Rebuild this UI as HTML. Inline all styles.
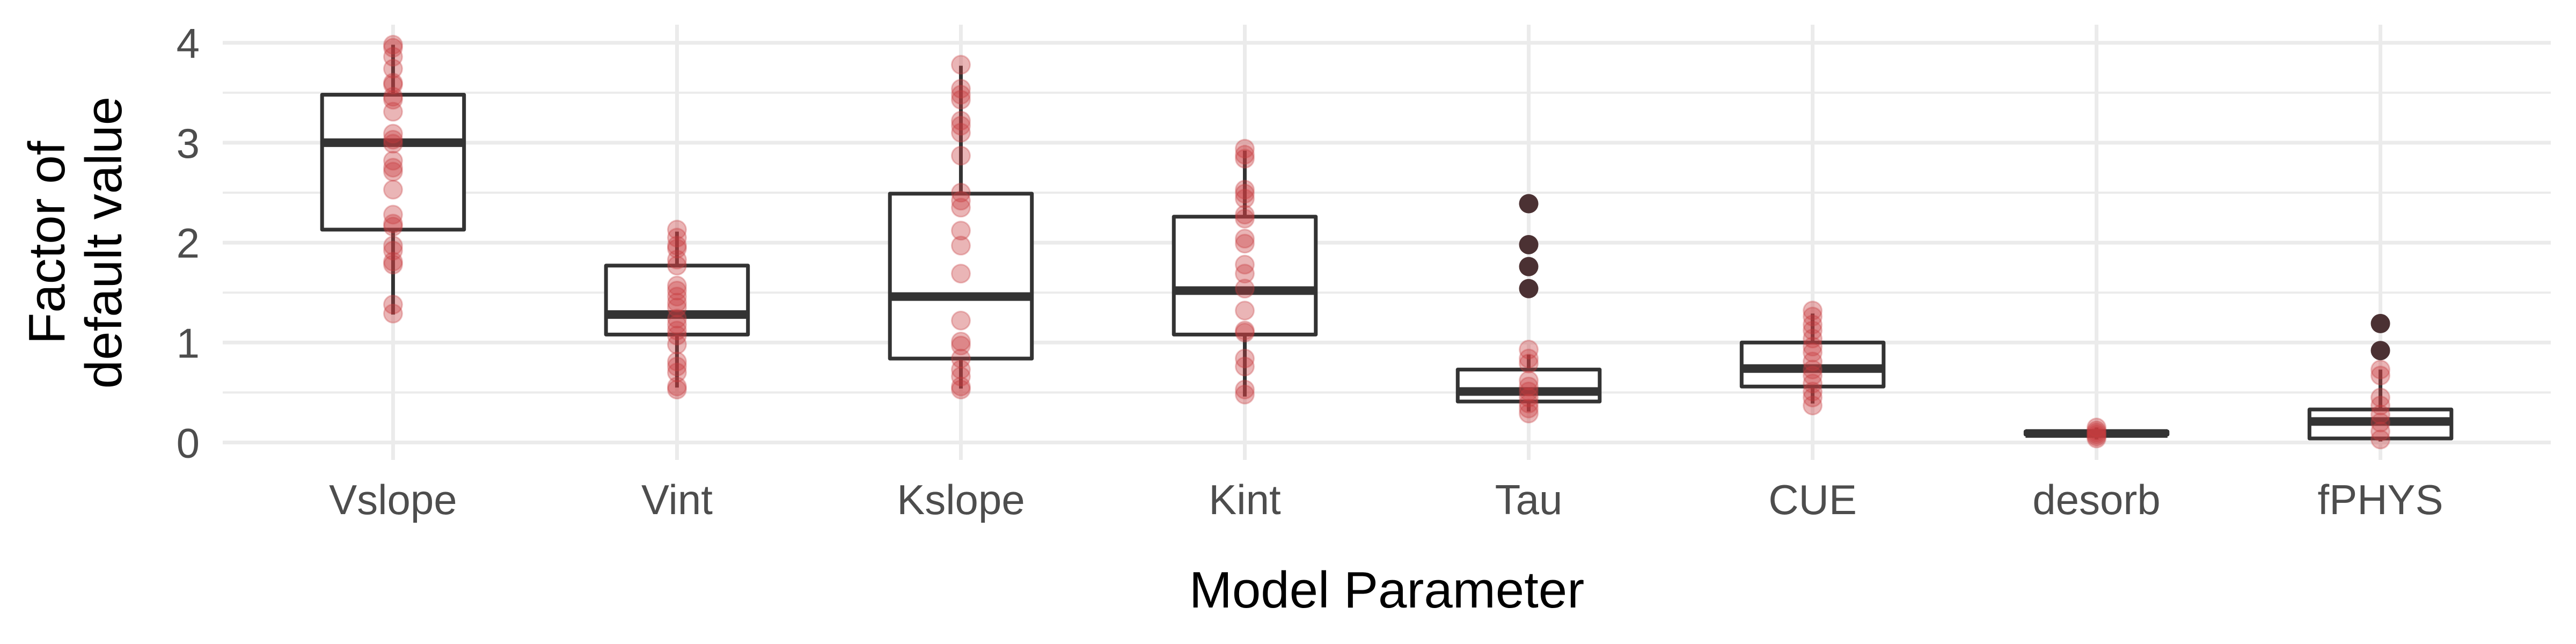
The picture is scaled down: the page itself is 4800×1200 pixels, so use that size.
<!DOCTYPE html>
<html><head><meta charset="utf-8"><style>
html,body{margin:0;padding:0;background:#fff;}
svg{display:block;font-family:"Liberation Sans",Arial,sans-serif;}
</style></head><body>
<svg id="chart" width="4800" height="1200" viewBox="0 0 4800 1200" xmlns="http://www.w3.org/2000/svg">
<g id="grid"></g>
<g id="boxes"></g>
<g id="points"></g>
<g id="axes"></g>
<text x="2584" y="1132" font-size="96" text-anchor="middle" fill="#000">Model Parameter</text>
<text transform="translate(120,452) rotate(-90)" font-size="96" text-anchor="middle" fill="#000"><tspan x="0" y="0">Factor of</tspan><tspan x="0" y="106">default value</tspan></text>
</svg>
<script>
const categories = ["Vslope","Vint","Kslope","Kint","Tau","CUE","desorb","fPHYS"];
const q1 = [2.13,1.08,0.84,1.08,0.41,0.56,0.08,0.04];
const medians = [3.00,1.28,1.46,1.52,0.51,0.74,0.09,0.21];
const q3 = [3.48,1.77,2.49,2.26,0.73,1.00,0.11,0.33];
const whiskerLow = [1.28,0.55,0.54,0.46,0.31,0.39,0.03,0.01];
const whiskerHigh = [3.98,2.11,3.77,2.92,0.88,1.29,0.15,0.73];
const pointsVslope = [3.98,3.95,3.86,3.74,3.60,3.58,3.46,3.43,3.31,3.09,3.03,2.99,2.82,2.75,2.71,2.53,2.28,2.19,2.16,1.97,1.92,1.81,1.78,1.38,1.29];
const pointsVint = [2.13,2.05,1.97,1.94,1.83,1.77,1.57,1.52,1.46,1.40,1.35,1.24,1.18,1.12,1.07,0.98,0.81,0.76,0.70,0.56,0.53];
const pointsKslope = [3.78,3.54,3.48,3.43,3.22,3.17,3.10,2.87,2.50,2.42,2.35,2.12,1.97,1.69,1.22,1.01,0.97,0.84,0.73,0.66,0.56,0.53];
const pointsKint = [2.94,2.88,2.84,2.53,2.49,2.44,2.28,2.24,2.04,1.99,1.78,1.69,1.54,1.32,1.12,1.10,0.84,0.76,0.53,0.48];
const pointsTau = [0.93,0.84,0.79,0.62,0.56,0.51,0.45,0.39,0.34,0.29];
const pointsCUE = [1.32,1.26,1.18,1.12,1.04,0.96,0.90,0.81,0.73,0.67,0.59,0.51,0.45,0.37];
const pointsDesorb = [0.15,0.12,0.10,0.08,0.06,0.04];
const pointsFPHYS = [0.73,0.67,0.45,0.37,0.28,0.20,0.11,0.03];
const outliersTau = [2.39,1.98,1.76,1.54];
const outliersFPHYS = [1.19,0.92];
const yTicks = [0,1,2,3,4];
const yMinor = [0.5,1.5,2.5,3.5];

const NS="http://www.w3.org/2000/svg";
const panelL=415, panelR=4753, panelT=46, panelB=857;
const step=(panelR-panelL)/(categories.length-1+1.2);
function xPos(i){return panelL+step*(0.6+i);}
function yPos(v){return 824.5-v*186.2;}
function mk(tag,attrs,parent){const e=document.createElementNS(NS,tag);for(const k in attrs)e.setAttribute(k,attrs[k]);parent.appendChild(e);return e;}
const grid=document.getElementById('grid'),boxes=document.getElementById('boxes'),pts=document.getElementById('points'),axes=document.getElementById('axes');

yMinor.forEach(v=>{const l=mk('line',{x1:panelL,x2:panelR,y1:yPos(v),y2:yPos(v),stroke:'#ebebeb','stroke-width':4},grid);

});
yTicks.forEach(v=>{const l=mk('line',{x1:panelL,x2:panelR,y1:yPos(v),y2:yPos(v),stroke:'#ebebeb','stroke-width':7},grid);


const t=mk('text',{x:372,y:yPos(v)+28,'font-size':78,'text-anchor':'end',fill:'#4d4d4d'},axes);t.textContent=v;

});
categories.forEach((c,i)=>{const l=mk('line',{x1:xPos(i),x2:xPos(i),y1:panelT,y2:panelB,stroke:'#ebebeb','stroke-width':7},grid);


const t=mk('text',{x:xPos(i),y:958,'font-size':78,'text-anchor':'middle',fill:'#4d4d4d'},axes);t.textContent=c;

});

const bw=step*0.5;
categories.forEach((c,i)=>{const g=mk('g',{},boxes);


const x=xPos(i);
mk('line',{x1:x,x2:x,y1:yPos(q3[i]),y2:yPos(whiskerHigh[i]),stroke:'#333','stroke-width':7},g);
mk('line',{x1:x,x2:x,y1:yPos(q1[i]),y2:yPos(whiskerLow[i]),stroke:'#333','stroke-width':7},g);
const top=yPos(q3[i]),bot=yPos(q1[i]);
mk('rect',{x:x-bw/2,y:top,width:bw,height:Math.max(bot-top,0.5),fill:'#fff',stroke:'#333','stroke-width':7,'stroke-linejoin':'round'},g);
mk('line',{x1:x-bw/2,x2:x+bw/2,y1:yPos(medians[i]),y2:yPos(medians[i]),stroke:'#333','stroke-width':16},g);});

const allPts=[pointsVslope,pointsVint,pointsKslope,pointsKint,pointsTau,pointsCUE,pointsDesorb,pointsFPHYS];
allPts.forEach((arr,i)=>{arr.forEach(v=>{const p=mk('circle',{cx:xPos(i),cy:yPos(v),r:17,fill:'#c83c3e','fill-opacity':0.38,stroke:'#c83c3e','stroke-opacity':0.3,'stroke-width':3},pts);

});});
[[4,outliersTau],[7,outliersFPHYS]].forEach(([i,arr])=>{arr.forEach(v=>{const p=mk('circle',{cx:xPos(i),cy:yPos(v),r:18,fill:'#4b3133'},pts);

});});
</script>
</body></html>
